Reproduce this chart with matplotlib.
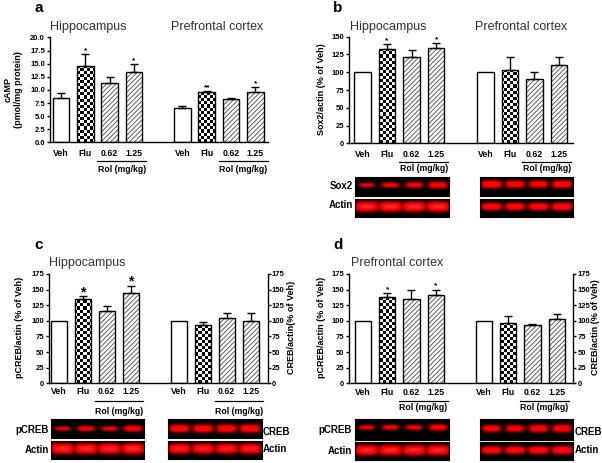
import numpy as np
import matplotlib
matplotlib.use('Agg')
import matplotlib.pyplot as plt
import matplotlib.transforms as mtransforms

plt.rcParams['font.family'] = ['Liberation Sans', 'DejaVu Sans']
plt.rcParams['hatch.linewidth'] = 0.6

W, H = 602, 463

# categories
groups = ['Veh', 'Flu', '0.62', '1.25']
kinds = ['veh', 'flu', 'rol', 'rol']
dose_label = 'Rol (mg/kg)'

# panel a: cAMP (pmol/mg protein)
a_hip = [8.5, 14.6, 11.3, 13.4]
a_hip_err = [0.9, 2.2, 1.1, 1.5]
a_hip_stars = ['', '*', '', '*']
a_pfc = [6.6, 9.6, 8.3, 9.6]
a_pfc_err = [0.4, 0.15, 0.2, 0.9]
a_pfc_stars = ['', '**', '', '*']

# panel b: Sox2/actin (% of Veh)
b_hip = [100, 132, 122, 134]
b_hip_err = [0, 8, 9, 7]
b_hip_stars = ['', '*', '', '*']
b_pfc = [100, 103, 91, 110]
b_pfc_err = [0, 19, 9, 12]
b_pfc_stars = ['', '', '', '']

# panel c: hippocampus pCREB / CREB (% of Veh)
c_pcreb = [100, 135, 116, 144]
c_pcreb_err = [0, 4, 7, 12]
c_pcreb_stars = ['', '*', '', '*']
c_creb = [100, 94, 104, 99]
c_creb_err = [0, 4, 8, 13]
c_creb_stars = ['', '', '', '']

# panel d: prefrontal cortex pCREB / CREB (% of Veh)
d_pcreb = [100, 138, 135, 142]
d_pcreb_err = [0, 6, 15, 8]
d_pcreb_stars = ['', '*', '', '*']
d_creb = [100, 97, 93, 103]
d_creb_err = [0, 10, 1.5, 8]
d_creb_stars = ['', '', '', '']

# western blot band signal per lane (relative)
b_sox2_hip = [0.45, 0.55, 0.6, 0.7]
b_actin_hip = [1.0, 1.0, 1.0, 1.0]
b_sox2_pfc = [0.8, 0.75, 0.72, 0.78]
b_actin_pfc = [0.8, 0.8, 0.8, 0.85]
c_pcreb_blot = [0.45, 0.55, 0.5, 0.65]
c_actin_blot = [1.0, 1.0, 1.0, 1.0]
c_creb_blot = [0.78, 0.78, 0.8, 0.8]
c_actin2_blot = [0.95, 0.95, 0.95, 0.95]
d_pcreb_blot = [0.45, 0.5, 0.5, 0.6]
d_actin_blot = [1.0, 1.0, 1.0, 1.0]
d_creb_blot = [0.65, 0.65, 0.7, 0.72]
d_actin2_blot = [0.82, 0.82, 0.82, 0.86]

fig = plt.figure(figsize=(W / 100, H / 100), dpi=100)


def px_rect(box):
    x0, y0, x1, y1 = box
    return [x0 / W, 1 - y1 / H, (x1 - x0) / W, (y1 - y0) / H]


def fig_text(x, y, s, **kw):
    fig.text(x / W, 1 - y / H, s, **kw)


def checker(ax, patch, cell=3.0):
    bb = ax.get_window_extent()
    nx, ny = int(bb.width / cell), int(bb.height / cell)
    arr = np.add.outer(np.arange(ny), np.arange(nx)) % 2
    im = ax.imshow(arr, cmap='gray', vmin=0, vmax=1, extent=[0, 1, 0, 1],
                   transform=ax.transAxes, aspect='auto',
                   interpolation='nearest', zorder=2.5)
    im.set_clip_path(patch)


def bar_panel(box, xlim, ymax, ystep, width, left, right, star_fs, star_off,
              ypos, right_axis=False):
    ax = fig.add_axes(px_rect(box))
    pos = [0, 1, 2, 3, 5, 6, 7, 8]
    vals = list(left[0]) + list(right[0])
    errs = list(left[1]) + list(right[1])
    stars = list(left[2]) + list(right[2])
    for x, v, e, k, s in zip(pos, vals, errs, kinds * 2, stars):
        if k == 'rol':
            ax.bar(x, v, width, facecolor='white', edgecolor='#4a4a4a',
                   hatch='///////', lw=0, zorder=2)
        else:
            p = ax.bar(x, v, width, facecolor='white', lw=0, zorder=2)[0]
            if k == 'flu':
                checker(ax, p)
        ax.bar(x, v, width, facecolor='none', edgecolor='black', lw=1.0,
               zorder=3)
        if e > 0:
            ax.errorbar(x, v, yerr=[[0], [e]], fmt='none', ecolor='black',
                        elinewidth=1.0, capsize=3, capthick=1.0, zorder=3)
        if s:
            ax.annotate(s, (x, v + e), xytext=(0, star_off),
                        textcoords='offset points', ha='center', va='bottom',
                        fontsize=star_fs, fontweight='bold')
    ax.set_xlim(*xlim)
    ax.set_ylim(0, ymax)
    ticks = np.arange(0, ymax + 0.01, ystep)
    ax.set_yticks(ticks)
    if ystep < 1:
        ax.set_yticklabels(['%.1f' % t for t in ticks])
    ax.set_xticks([])
    for sp in ['top', 'right']:
        ax.spines[sp].set_visible(False)
    for sp in ['left', 'bottom']:
        ax.spines[sp].set_linewidth(1.0)
    ax.tick_params(axis='y', direction='out', length=2.5, width=1.0, pad=1,
                   labelsize=5.5)
    for lab in ax.get_yticklabels():
        lab.set_fontweight('bold')

    tr = mtransforms.blended_transform_factory(ax.transData, ax.transAxes)
    yb = box[3]
    hh = box[3] - box[1]
    ytick, yline, yrol = [(yb - y) / hh for y in ypos]
    for x, g in zip(pos, groups * 2):
        ax.text(x, ytick, g, transform=tr, ha='center', va='center',
                fontsize=6.3, fontweight='bold', clip_on=False)
    for g0 in [0, 5]:
        ax.plot([g0 + 1.5, g0 + 3.5], [yline, yline], color='black', lw=0.9,
                transform=tr, clip_on=False)
        ax.text(g0 + 2.5, yrol, dose_label, transform=tr, ha='center',
                va='center', fontsize=6.3, fontweight='bold', clip_on=False)

    if right_axis:
        ax2 = ax.twinx()
        ax2.set_ylim(0, ymax)
        ax2.set_yticks(ticks)
        for sp in ['top', 'left', 'bottom']:
            ax2.spines[sp].set_visible(False)
        ax2.spines['right'].set_linewidth(1.0)
        ax2.tick_params(axis='y', direction='out', length=2.5, width=1.0,
                        pad=0.6, labelsize=5.5)
        for lab in ax2.get_yticklabels():
            lab.set_fontweight('bold')
    return ax


def blot(box, signal, yc=0.45):
    ax = fig.add_axes(px_rect(box))
    nr, nc = 40, 160
    yy = (np.arange(nr) + 0.5) / nr
    xx = (np.arange(nc) + 0.5) / nc
    img = np.zeros((nr, nc))
    n = len(signal)
    for i, s in enumerate(signal):
        xc = (i + 0.5) / n
        hw = (0.22 + 0.28 * s) / n
        sig = 0.05 + 0.22 * s ** 1.5
        px = np.exp(-np.abs((xx - xc) / hw) ** 4)
        py = np.exp(-np.abs((yy - yc) / sig) ** 2.5)
        img = np.maximum(img, (0.5 + 0.6 * s) * np.outer(py, px))
    rgb = np.zeros((nr, nc, 3))
    rgb[..., 0] = np.clip(img * 1.3, 0, 1)
    rgb[..., 1] = np.clip(img - 0.95, 0, 1) * 1.2
    rgb[..., 2] = rgb[..., 1]
    ax.imshow(rgb, aspect='auto', interpolation='bilinear')
    ax.set_xticks([])
    ax.set_yticks([])
    for sp in ax.spines.values():
        sp.set_color('black')
    return ax


title_kw = dict(ha='center', va='center', fontsize=9, color='#333333')
letter_kw = dict(ha='center', va='center', fontsize=11, fontweight='bold')
ylab_kw = dict(ha='center', va='center', rotation=90, fontsize=6.5,
               fontweight='bold')
blot_kw = dict(va='center', fontsize=7, fontweight='bold')

# ---- panel a ----
bar_panel((50, 37.5, 268, 142.3), (-0.45, 8.52), 20, 2.5, 0.68,
          (a_hip, a_hip_err, a_hip_stars), (a_pfc, a_pfc_err, a_pfc_stars),
          6, 0, (153, 160.5, 169.5))
fig_text(39, 8, 'a', **letter_kw)
fig_text(88, 27, 'Hippocampus', **title_kw)
fig_text(217, 27, 'Prefrontal cortex', **title_kw)
fig_text(13, 90, 'cAMP\n(pmol/mg protein)', linespacing=1.2, **ylab_kw)

# ---- panel b ----
bar_panel((349.3, 36.7, 573.3, 143.3), (-0.53, 8.58), 150, 25, 0.67,
          (b_hip, b_hip_err, b_hip_stars), (b_pfc, b_pfc_err, b_pfc_stars),
          6, 0, (154, 162.3, 168))
fig_text(338, 8, 'b', **letter_kw)
fig_text(388, 27, 'Hippocampus', **title_kw)
fig_text(521, 27, 'Prefrontal cortex', **title_kw)
fig_text(321, 89, 'Sox2/actin (% of Veh)', **ylab_kw)
blot((355, 177.3, 449, 195.7), b_sox2_hip, 0.42)
blot((355, 199.3, 449, 217.3), b_actin_hip, 0.42)
blot((480, 177.3, 573.3, 195.7), b_sox2_pfc, 0.38)
blot((480, 199.3, 573.3, 217.3), b_actin_pfc, 0.42)
fig_text(353, 186, 'Sox2', ha='right', **blot_kw)
fig_text(353, 205, 'Actin', ha='right', **blot_kw)

# ---- panel c ----
bar_panel((49.3, 274, 267.7, 383.3), (-0.39, 8.71), 175, 25, 0.67,
          (c_pcreb, c_pcreb_err, c_pcreb_stars),
          (c_creb, c_creb_err, c_creb_stars),
          10, -2, (392, 401, 412), right_axis=True)
fig_text(39, 245, 'c', **letter_kw)
fig_text(87, 263, 'Hippocampus', **title_kw)
fig_text(20, 327, 'pCREB/actin (% of Veh)', **ylab_kw)
fig_text(292, 327, 'CREB/actin(% of Veh)', **ylab_kw)
blot((50.7, 419.3, 144, 438.3), c_pcreb_blot, 0.5)
blot((50.7, 440.7, 144, 459.3), c_actin_blot, 0.45)
blot((168.3, 419.3, 261.7, 438.3), c_creb_blot, 0.5)
blot((168.3, 440.7, 261.7, 459.3), c_actin2_blot, 0.45)
fig_text(49, 430, 'pCREB', ha='right', **blot_kw)
fig_text(49, 450, 'Actin', ha='right', **blot_kw)
fig_text(263, 432, 'CREB', ha='left', **blot_kw)
fig_text(263, 449, 'Actin', ha='left', **blot_kw)

# ---- panel d ----
bar_panel((349.3, 274, 573.3, 383.3), (-0.57, 8.69), 175, 25, 0.67,
          (d_pcreb, d_pcreb_err, d_pcreb_stars),
          (d_creb, d_creb_err, d_creb_stars),
          6, 0, (392.7, 400.7, 408), right_axis=True)
fig_text(338, 245, 'd', **letter_kw)
fig_text(397, 263, 'Prefrontal cortex', **title_kw)
fig_text(322, 327, 'pCREB/actin (% of Veh)', **ylab_kw)
fig_text(596, 327, 'CREB/actin (% of Veh)', **ylab_kw)
blot((355, 419.3, 449, 440), d_pcreb_blot, 0.4)
blot((355, 442.3, 449, 460), d_actin_blot, 0.45)
blot((480, 419.3, 573.3, 440), d_creb_blot, 0.45)
blot((480, 442.3, 573.3, 460), d_actin2_blot, 0.45)
fig_text(352, 430, 'pCREB', ha='right', **blot_kw)
fig_text(352, 451, 'Actin', ha='right', **blot_kw)
fig_text(575, 432, 'CREB', ha='left', **blot_kw)
fig_text(575, 450, 'Actin', ha='left', **blot_kw)

fig.savefig('out.png', dpi=100)
